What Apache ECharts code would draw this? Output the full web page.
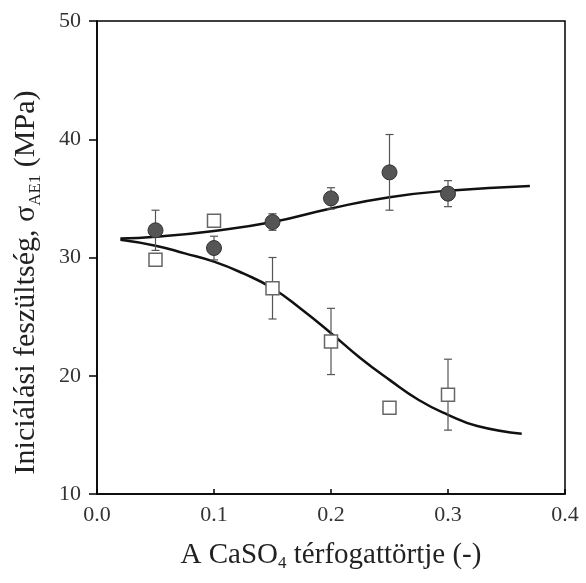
<!DOCTYPE html>
<html>
<head>
<meta charset="utf-8">
<script src="https://cdn.jsdelivr.net/npm/echarts@6/dist/echarts.min.js"></script>
<style>html,body{margin:0;padding:0;background:#fff}#c{width:586px;height:583px}</style>
</head>
<body>
<div id="c"></div>
<script>
var xTicks = [0.0, 0.1, 0.2, 0.3, 0.4];
var yTicks = [10, 20, 30, 40, 50];
var fractions = [0.05, 0.10, 0.15, 0.20, 0.25, 0.30];
var circleValues = [32.3, 30.8, 33.0, 35.0, 37.2, 35.4];
var circleErrors = [1.7, 1.0, 0.7, 0.9, 3.2, 1.1];
var squareValues = [29.8, 33.1, 27.4, 22.9, 17.3, 18.4];
var squareErrors = [0, 0, 2.6, 2.8, 0, 3.0];
var upperFitX = [0.02, 0.05, 0.10, 0.15, 0.20, 0.25, 0.30, 0.37];
var upperFitY = [31.6, 31.75, 32.25, 33.0, 34.15, 35.1, 35.65, 36.05];
var lowerFitX = [0.02, 0.05, 0.075, 0.10, 0.125, 0.15, 0.175, 0.20, 0.225, 0.25, 0.275, 0.30, 0.325, 0.363];
var lowerFitY = [31.5, 31.0, 30.35, 29.65, 28.65, 27.4, 25.6, 23.6, 21.5, 19.65, 17.95, 16.7, 15.75, 15.1];

function zip(a, b) { return a.map(function (v, i) { return [v, b[i]]; }); }
function errData(vals, errs) {
  var out = [];
  fractions.forEach(function (x, i) { if (errs[i] > 0) out.push([x, vals[i] - errs[i], vals[i] + errs[i]]); });
  return out;
}
function errRender(params, api) {
  var x = api.value(0);
  var lo = api.coord([x, api.value(1)]);
  var hi = api.coord([x, api.value(2)]);
  var w = 4;
  var st = { stroke: '#555', lineWidth: 1.2 };
  return {
    type: 'group',
    children: [
      { type: 'line', shape: { x1: lo[0], y1: lo[1], x2: hi[0], y2: hi[1] }, style: st },
      { type: 'line', shape: { x1: lo[0] - w, y1: lo[1], x2: lo[0] + w, y2: lo[1] }, style: st },
      { type: 'line', shape: { x1: hi[0] - w, y1: hi[1], x2: hi[0] + w, y2: hi[1] }, style: st }
    ]
  };
}
var serif = 'Liberation Serif';
var xNameRich = {
  a: { fontFamily: serif, fontSize: 29, color: '#222', lineHeight: 34 },
  s: { fontFamily: serif, fontSize: 17, color: '#222', verticalAlign: 'bottom', lineHeight: 18, padding: [20, 0, 0, 0] }
};
var yNameRich = {
  a: { fontFamily: serif, fontSize: 30, color: '#222', lineHeight: 35 },
  s: { fontFamily: serif, fontSize: 17, color: '#222', verticalAlign: 'bottom', lineHeight: 18, padding: [18, 0, 0, 0] }
};
var chart = echarts.init(document.getElementById('c'));
chart.setOption({
  animation: false,
  backgroundColor: '#fff',
  grid: { left: 97, right: 21, top: 21, bottom: 89, show: true, borderColor: '#000', borderWidth: 1.5, backgroundColor: 'transparent' },
  xAxis: {
    type: 'value', min: 0, max: 0.4, interval: 0.1,
    name: '{a|A CaSO}{s|4}{a| térfogattörtje (-)}',
    nameLocation: 'middle', nameGap: 44,
    nameTextStyle: { rich: xNameRich },
    axisLine: { show: true, lineStyle: { color: '#000', width: 1.5 } },
    axisTick: { show: true, inside: true, length: 5, lineStyle: { color: '#000', width: 1.5 } },
    axisLabel: { fontFamily: serif, fontSize: 22, color: '#333', margin: 10, formatter: function (v) { return v.toFixed(1); } },
    splitLine: { show: false }
  },
  yAxis: {
    type: 'value', min: 10, max: 50, interval: 10,
    name: '{a|Iniciálási feszültség, σ}{s|AE1}{a| (MPa)}',
    nameLocation: 'middle', nameGap: 53,
    nameTextStyle: { rich: yNameRich, padding: [0, 50, 0, 0] },
    axisLine: { show: true, lineStyle: { color: '#000', width: 1.5 } },
    axisTick: { show: true, inside: false, length: 8, lineStyle: { color: '#000', width: 1.5 } },
    axisLabel: { fontFamily: serif, fontSize: 22, color: '#333', margin: 16 },
    splitLine: { show: false }
  },
  series: [
    { type: 'line', data: zip(upperFitX, upperFitY), smooth: 0.5, showSymbol: false, lineStyle: { color: '#111', width: 2.5 }, z: 2 },
    { type: 'line', data: zip(lowerFitX, lowerFitY), smooth: 0.5, showSymbol: false, lineStyle: { color: '#111', width: 2.5 }, z: 2 },
    { type: 'custom', data: errData(circleValues, circleErrors), renderItem: errRender, z: 3 },
    { type: 'custom', data: errData(squareValues, squareErrors), renderItem: errRender, z: 3 },
    { type: 'scatter', data: zip(fractions, circleValues), symbol: 'circle', symbolSize: 15, itemStyle: { color: '#555', borderColor: '#333', borderWidth: 1, opacity: 1 }, z: 4 },
    { type: 'scatter', data: zip(fractions, squareValues), symbol: 'rect', symbolSize: 13, itemStyle: { color: '#fff', borderColor: '#666', borderWidth: 1.5, opacity: 1 }, z: 4 }
  ]
});
</script>
</body>
</html>
